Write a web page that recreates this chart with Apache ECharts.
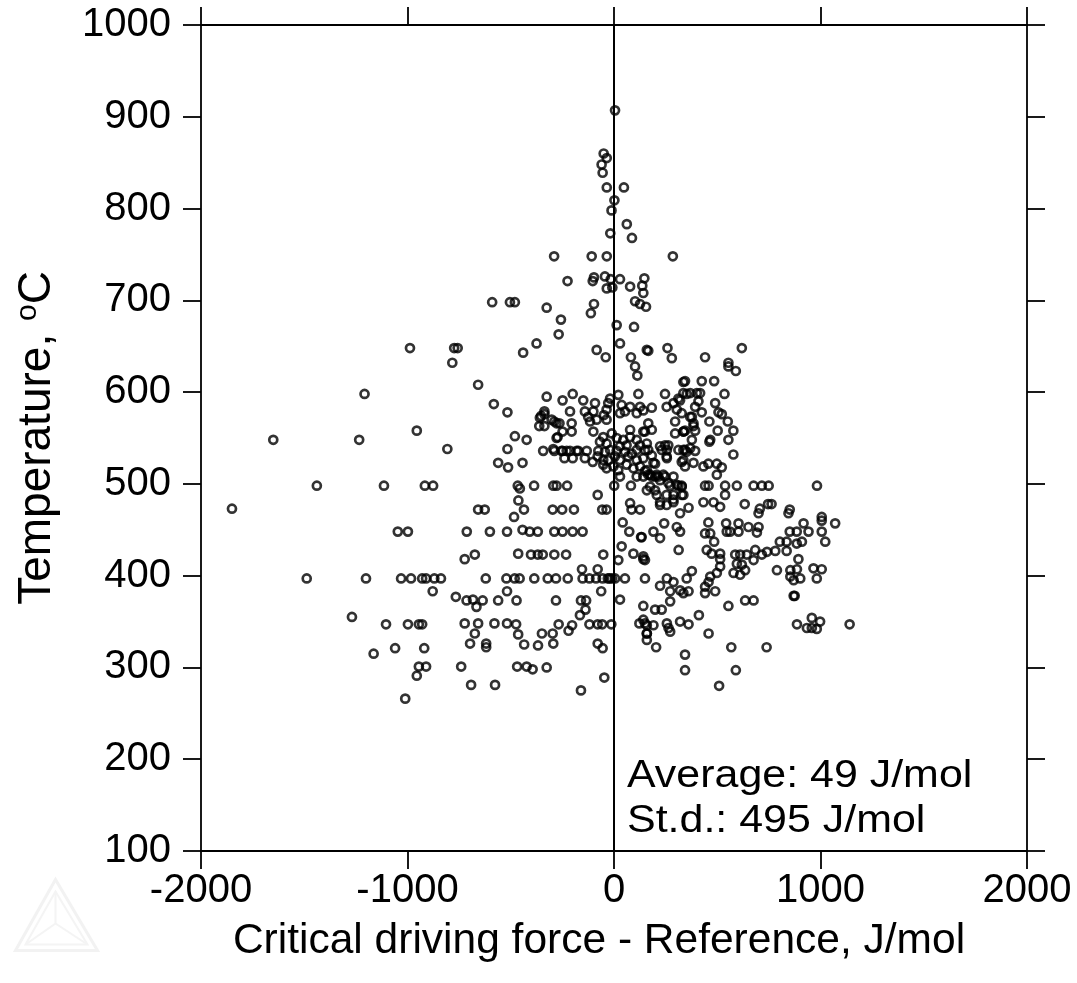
<!DOCTYPE html>
<html>
<head>
<meta charset="utf-8">
<script src="https://cdn.jsdelivr.net/npm/echarts@6/dist/echarts.min.js"></script>
<style>
  html, body { margin: 0; padding: 0; background: #fff; }
  #chart { width: 1077px; height: 983px; }
</style>
</head>
<body>
<div id="chart"></div>
<script>
// Each point: critical driving force minus reference (J/mol) against temperature (°C)
const driveForce = [
  5,-50,-35,-60,-55,-35,48,2,-12,62,-18,87,
  -290,-108,-35,285,
  -225,-103,-97,-44,-16,29,-35,-8,78,147,137,142,155,102,126,
  -590,-504,-480,-326,-97,-112,-257,
  13,97,-268,-375,-440,29,-84,-40,159,82,102,113,
  -774,-757,-783,-658,-582,-516,-807,-480,-423,-516,-561,-513,-443,
  -916,-876,-466,-456,-387,-294,-278,-227,-79,1,82,159,
  -463,-658,-626,-436,-297,-251,-194,-57,-36,78,85,126,-484,
  -326,-200,-249,-149,-92,-19,-28,21,118,247,336,352,312,288,
  37,78,126,183,-337,-353,-213,-141,-100,-36,-49,29,53,110,142,255,304,328,
  -302,-278,-205,-125,-116,-84,-36,296,-337,-205,-249,-278,-100,78,142,183,296,337,
  -52,-11,13,45,78,110,-68,-36,29,61,126,159,223,263,
  -343,-294,-249,-213,-173,-132,-76,-44,-19,13,53,86,110,336,352,
  -240,-200,-141,-52,-28,5,29,69,110,142,183,199,255,336,
  -52,-36,-3,21,61,94,126,159,175,207,239,
  29,110,142,288,263,304,175,199,223,328,336,207,255,288,223,255,
  -359,-337,-289,-264,-273,-362,-289,-254,-229,-181,-103,-79,
  166,259,280,441,619,554,554,590,344,425,485,
  336,369,401,417,535,320,393,409,490,425,506,522,377,462,551,385,344,393,502,578,377,466,462,554,
  312,344,369,393,578,328,344,385,433,457,498,522,498,191,200,
  272,312,328,441,458,538,595,676,716,749,983,
  288,328,538,223,288,433,482,514,633,706,746,763,851,845,1006,320,361,700,
  166,150,369,385,336,247,256,231,256,150,166,150,166,183,215,247,
  243,304,320,191,223,134,457,441,466,485,543,603,546,562,603,651,700,692,918,1006,1071,851,885,942,1006,1023,803,836,885,910,
  313,449,473,514,587,611,643,684,716,741,781,836,676,514,142,150,595,619,579,611,635,893,
  514,498,466,458,377,352,789,854,886,854,870,902,966,1006,982,150,256,288,223,441,490,441,320,336,361,272,272,870,875,635,676,554,142,199,231,411,
  150,191,159,142,256,264,272,320,361,458,886,958,998,934,958,982,1141,159,204,568,739,344,344,590,509,
  42,74,131,-713,-601,-518,-443,-408,-369,-289,-249,-200,-152,37,-723,-674,-464,-402,-369,-345,-289,-232,-52,21,94,142,-155,-79,
  -870,-838,-621,-521,-481,-457,-386,-321,-281,-224,-152,-119,-87,-55,-22,5,53,-10,-30,
  -878,-518,-62,29,-766,-714,-683,-666,-636,-561,-472,-281,-160,-135,-138,-165,
  -723,-658,-674,-579,-518,-474,-464,-349,-297,-268,-203,-220,-119,-79,-57,-13,123,159,159,
  -697,-619,-619,-435,-368,-294,-79,-55,-740,-469,-423,-394,-326,-47,-692,-576,-160,
  -1047,-998,-1488,-1201,-1031,-983,-929,-910,-1269,-1104,-998,-945,-929,-1164,-1060,-919,-945,-910,-955,-1011,
  -988,-1208,-1650,-1234,-955,-1439,-1114,-1850
];

const temperature = [
  907,860,855,848,839,823,823,809,798,783,773,768,
  748,748,748,748,
  721,721,725,726,723,723,713,714,715,724,716,708,693,699,696,
  698,698,698,692,696,686,679,
  673,671,663,653,643,653,646,638,646,638,628,618,
  648,648,632,608,587,578,538,552,548,538,523,518,523,
  498,498,498,495,498,498,498,498,488,498,498,493,
  482,472,472,472,472,472,472,472,472,479,472,472,464,
  595,598,591,591,588,593,588,597,598,598,611,598,593,588,
  586,584,584,583,579,574,579,579,579,581,575,577,579,577,580,584,581,577,
  570,566,566,573,568,570,570,568,563,557,557,550,557,559,557,559,555,557,
  551,555,550,548,551,548,546,544,541,542,542,544,541,542,
  536,538,536,536,536,536,536,535,537,536,535,533,537,537,535,
  528,528,528,526,526,530,526,530,526,528,531,522,530,526,
  521,517,519,515,521,517,519,515,510,510,510,
  508,508,508,508,501,499,497,493,504,497,488,488,488,483,477,477,
  572,576,568,566,551,563,536,536,536,536,524,530,
  645,648,637,638,648,632,628,623,612,612,612,
  599,599,599,599,598,591,584,590,588,578,578,576,573,568,568,563,558,558,558,558,548,548,546,548,
  537,537,539,536,532,524,519,523,519,522,522,518,510,523,508,
  498,498,498,498,498,498,498,498,498,498,498,
  488,488,488,480,480,480,480,475,478,473,478,478,472,468,464,468,474,468,
  566,557,573,566,557,542,537,537,528,537,537,514,510,508,508,508,
  457,453,448,448,441,442,458,446,446,437,457,457,448,448,448,453,453,447,457,460,457,448,448,448,448,437,437,437,435,437,
  428,428,424,424,423,423,423,428,423,426,427,427,417,418,421,417,413,412,403,401,406,418,
  410,403,399,393,405,397,406,406,407,399,395,397,408,407,397,397,397,393,389,388,383,381,384,381,383,383,372,378,378,373,373,367,367,363,363,357,
  348,346,337,352,348,343,339,350,347,337,347,354,350,343,343,342,347,330,322,322,322,314,297,297,280,
  458,448,442,448,448,448,450,448,448,448,448,448,448,432,418,423,424,423,423,423,423,423,423,417,424,418,407,407,
  397,397,397,397,397,397,397,397,397,397,397,397,397,397,397,397,397,397,397,
  383,383,383,374,377,373,374,366,373,373,373,373,373,373,363,357,
  348,348,337,348,348,347,336,337,337,347,346,340,347,347,347,347,348,346,337,
  326,326,322,325,324,326,326,321,301,301,301,298,300,289,281,281,275,
  448,448,397,397,397,397,397,397,355,347,347,347,347,315,321,321,301,301,291,266,
  648,598,548,548,558,498,498,473
];

// Axis ticks
const xTicks = [-2000, -1000, 0, 1000, 2000];
const yTicks = [100, 200, 300, 400, 500, 600, 700, 800, 900, 1000];

// Summary statistics printed inside the plot
const statLines = ['Average: 49 J/mol', 'St.d.: 495 J/mol'];

const points = driveForce.map((x, i) => [x, temperature[i]]);

const FONT = '"Liberation Sans", Arial, Helvetica, sans-serif';
const black = '#000';
const plainNumber = v => String(v);

function xAxisDef(pos, withLabels) {
  return {
    type: 'value',
    position: pos,
    min: xTicks[0],
    max: xTicks[xTicks.length - 1],
    interval: xTicks[1] - xTicks[0],
    axisLine: { show: true, onZero: false, lineStyle: { color: black, width: 1.8 } },
    axisTick: { show: true, inside: false, length: 18, lineStyle: { color: black, width: 1.8 } },
    axisLabel: { show: withLabels, color: black, fontSize: 40, fontFamily: FONT, margin: 20, formatter: plainNumber },
    splitLine: { show: false },
    name: withLabels ? 'Critical driving force - Reference, J/mol' : '',
    nameLocation: 'middle',
    nameGap: 69,
    nameTextStyle: { color: black, fontSize: 42.5, fontFamily: FONT, padding: [0, 30, 0, 0] }
  };
}

function yAxisDef(pos, withLabels) {
  return {
    type: 'value',
    position: pos,
    min: yTicks[0],
    max: yTicks[yTicks.length - 1],
    interval: yTicks[1] - yTicks[0],
    axisLine: { show: true, onZero: false, lineStyle: { color: black, width: 1.8 } },
    axisTick: { show: true, inside: false, length: 18, lineStyle: { color: black, width: 1.8 } },
    axisLabel: { show: withLabels, color: black, fontSize: 40, fontFamily: FONT, margin: 30, formatter: plainNumber },
    splitLine: { show: false },
    name: withLabels ? 'Temperature, {sup|o}C' : '',
    nameLocation: 'middle',
    nameRotate: 90,
    nameGap: 140,
    nameTextStyle: {
      color: black, fontSize: 46, fontFamily: FONT,
      rich: {
        sup: { fontSize: 30, fontFamily: FONT, color: black, verticalAlign: 'top', padding: [0, 0, 18, 0] }
      }
    }
  };
}

const chart = echarts.init(document.getElementById('chart'), null, { renderer: 'canvas' });

chart.setOption({
  animation: false,
  backgroundColor: '#fff',
  grid: { left: 201, right: 50, top: 25, bottom: 132, containLabel: false, outerBoundsMode: 'none' },
  xAxis: [xAxisDef('bottom', true), xAxisDef('top', false)],
  yAxis: [yAxisDef('left', true), yAxisDef('right', false)],
  graphic: [
    // faint logo mark in the lower-left corner
    {
      type: 'group', left: 13, top: 877, silent: true,
      children: [
        { type: 'polygon', shape: { points: [[40, 0], [0, 71], [82, 71]] }, style: { fill: 'none', stroke: '#f2f2f2', lineWidth: 3 } },
        { type: 'polygon', shape: { points: [[40, 12], [10, 65], [72, 65]] }, style: { fill: 'none', stroke: '#f4f4f4', lineWidth: 2 } },
        { type: 'polyline', shape: { points: [[40, 12], [40, 44], [10, 65]] }, style: { fill: 'none', stroke: '#f4f4f4', lineWidth: 2 } },
        { type: 'line', shape: { x1: 40, y1: 44, x2: 72, y2: 65 }, style: { stroke: '#f4f4f4', lineWidth: 2 } }
      ]
    },
    {
      type: 'text', x: 627, y: 758, scaleX: 1.13, silent: true,
      style: { text: statLines[0], fill: black, font: '38px ' + FONT }
    },
    {
      type: 'text', x: 627, y: 803, scaleX: 1.13, silent: true,
      style: { text: statLines[1], fill: black, font: '38px ' + FONT }
    }
  ],
  series: [
    {
      type: 'scatter',
      xAxisIndex: 0,
      yAxisIndex: 0,
      data: points,
      symbol: 'circle',
      symbolSize: 8,
      itemStyle: { color: 'rgba(0,0,0,0)', borderColor: black, borderWidth: 2.7 },
      emphasis: { disabled: true },
      silent: true,
      markLine: {
        silent: true,
        symbol: 'none',
        label: { show: false },
        lineStyle: { color: black, width: 2, type: 'solid' },
        data: [{ xAxis: 0 }]
      },
      z: 3
    }
  ]
});
</script>
</body>
</html>
